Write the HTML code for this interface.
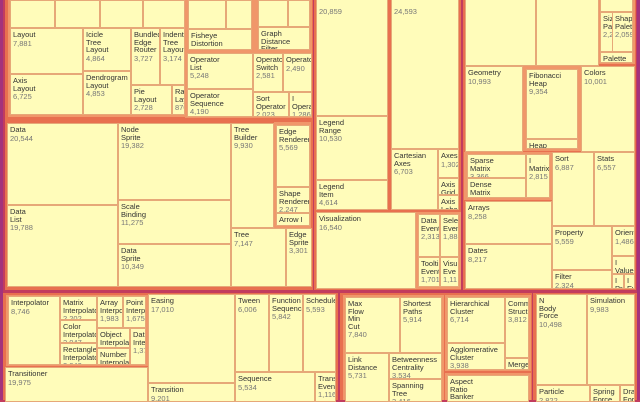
<!DOCTYPE html><html><head><style>
body{margin:0;width:640px;height:400px;overflow:hidden;background:#c23c5e;position:relative;font-family:"Liberation Sans",sans-serif}
div{position:absolute;box-sizing:border-box}
.g{background:#e8704f}
.h{background:#f0976a}
.l{background:#fffcba;border:1px solid #e6a878;font-size:7.5px;line-height:7.5px;color:#333;padding:2px 2px;overflow:hidden;white-space:nowrap}
.l i{font-style:normal;color:#777;display:block;margin-top:1px}
</style></head><body>
<div style="left:0;top:0;width:3px;height:400px;background:#a3327c"></div>
<div style="left:637px;top:0;width:3px;height:400px;background:#a3327c"></div>
<!-- top-left groups -->
<div class="g" style="left:5px;top:0;width:308px;height:120px"></div>
<div class="h" style="left:8px;top:0;width:178px;height:117px"></div>
<div class="h" style="left:185px;top:0;width:127px;height:118px"></div>
<div class="g" style="left:5px;top:120px;width:308px;height:170px"></div>
<div class="h" style="left:274px;top:122px;width:37px;height:106px"></div>
<div class="g" style="left:314px;top:0;width:147px;height:290px"></div>
<div class="h" style="left:416px;top:212px;width:45px;height:77px"></div>
<div class="g" style="left:463px;top:0;width:173px;height:290px"></div>
<div class="h" style="left:598px;top:0;width:37px;height:64px"></div>
<div class="h" style="left:523px;top:66px;width:58px;height:85px"></div>
<div class="h" style="left:464px;top:152px;width:88px;height:48px"></div>
<div class="g" style="left:3px;top:293px;width:335px;height:107px"></div>
<div class="h" style="left:6px;top:295px;width:142px;height:71px"></div>
<div class="g" style="left:340px;top:293px;width:192px;height:107px"></div>
<div class="h" style="left:343px;top:295px;width:101px;height:105px"></div>
<div class="h" style="left:445px;top:295px;width:86px;height:76px"></div>
<div class="h" style="left:445px;top:373px;width:86px;height:27px"></div>
<div class="g" style="left:533px;top:293px;width:104px;height:107px"></div>

<!-- layout -->
<div class="l" style="left:10px;top:0;width:45px;height:28px"></div>
<div class="l" style="left:55px;top:0;width:45px;height:28px"></div>
<div class="l" style="left:100px;top:0;width:43px;height:28px"></div>
<div class="l" style="left:143px;top:0;width:42px;height:28px"></div>
<div class="l" style="left:10px;top:28px;width:73px;height:46px">Layout<i>7,881</i></div>
<div class="l" style="left:10px;top:74px;width:73px;height:41px">Axis<br>Layout<i>6,725</i></div>
<div class="l" style="left:83px;top:28px;width:48px;height:43px">Icicle<br>Tree<br>Layout<i>4,864</i></div>
<div class="l" style="left:83px;top:71px;width:48px;height:44px">Dendrogram<br>Layout<i>4,853</i></div>
<div class="l" style="left:131px;top:28px;width:29px;height:57px">Bundled<br>Edge<br>Router<i>3,727</i></div>
<div class="l" style="left:160px;top:28px;width:25px;height:57px">Indent<br>Tree<br>Layout<i>3,174</i></div>
<div class="l" style="left:131px;top:85px;width:41px;height:30px">Pie<br>Layout<i>2,728</i></div>
<div class="l" style="left:172px;top:85px;width:13px;height:30px">Rad<br>Lay<i>870</i></div>
<!-- operators -->
<div class="l" style="left:188px;top:0;width:38px;height:29px"></div>
<div class="l" style="left:226px;top:0;width:26px;height:29px"></div>
<div class="l" style="left:188px;top:29px;width:64px;height:21px">Fisheye<br>Distortion<i>3,444</i></div>
<div class="l" style="left:258px;top:0;width:30px;height:27px"></div>
<div class="l" style="left:288px;top:0;width:22px;height:27px"></div>
<div class="l" style="left:258px;top:27px;width:52px;height:23px">Graph<br>Distance<br>Filter</div>
<div class="l" style="left:187px;top:53px;width:66px;height:36px">Operator<br>List<i>5,248</i></div>
<div class="l" style="left:187px;top:89px;width:66px;height:28px">Operator<br>Sequence<i>4,190</i></div>
<div class="l" style="left:253px;top:53px;width:30px;height:39px">Operator<br>Switch<i>2,581</i></div>
<div class="l" style="left:283px;top:53px;width:29px;height:39px">Operator<i>2,490</i></div>
<div class="l" style="left:253px;top:92px;width:36px;height:25px">Sort<br>Operator<i>2,023</i></div>
<div class="l" style="left:289px;top:92px;width:23px;height:25px">I<br>Operat<i>1,286</i></div>
<!-- data -->
<div class="l" style="left:7px;top:123px;width:111px;height:82px">Data<i>20,544</i></div>
<div class="l" style="left:7px;top:205px;width:111px;height:82px">Data<br>List<i>19,788</i></div>
<div class="l" style="left:118px;top:123px;width:113px;height:77px">Node<br>Sprite<i>19,382</i></div>
<div class="l" style="left:118px;top:200px;width:113px;height:44px">Scale<br>Binding<i>11,275</i></div>
<div class="l" style="left:118px;top:244px;width:113px;height:43px">Data<br>Sprite<i>10,349</i></div>
<div class="l" style="left:231px;top:123px;width:43px;height:105px">Tree<br>Builder<i>9,930</i></div>
<div class="l" style="left:231px;top:228px;width:55px;height:59px">Tree<i>7,147</i></div>
<div class="l" style="left:286px;top:228px;width:26px;height:59px">Edge<br>Sprite<i>3,301</i></div>
<div class="l" style="left:276px;top:125px;width:34px;height:62px">Edge<br>Renderer<i>5,569</i></div>
<div class="l" style="left:276px;top:187px;width:34px;height:26px">Shape<br>Renderer<i>2,247</i></div>
<div class="l" style="left:276px;top:213px;width:34px;height:13px">Arrow I</div>
<!-- legend/axis -->
<div class="l" style="left:316px;top:-4px;width:72px;height:120px">&nbsp;<i>20,859</i></div>
<div class="l" style="left:316px;top:116px;width:72px;height:64px">Legend<br>Range<i>10,530</i></div>
<div class="l" style="left:316px;top:180px;width:72px;height:30px">Legend<br>Item<i>4,614</i></div>
<div class="l" style="left:391px;top:-4px;width:68px;height:153px">&nbsp;<i>24,593</i></div>
<div class="l" style="left:391px;top:149px;width:47px;height:61px">Cartesian<br>Axes<i>6,703</i></div>
<div class="l" style="left:438px;top:149px;width:21px;height:29px">Axes<i>1,302</i></div>
<div class="l" style="left:438px;top:178px;width:21px;height:17px">Axis<br>Grid</div>
<div class="l" style="left:438px;top:195px;width:21px;height:15px">Axis<br>Labe</div>
<div class="l" style="left:316px;top:212px;width:100px;height:77px">Visualization<i>16,540</i></div>
<div class="l" style="left:418px;top:214px;width:22px;height:43px">Data<br>Event<i>2,313</i></div>
<div class="l" style="left:440px;top:214px;width:19px;height:43px">Sele<br>Even<i>1,88</i></div>
<div class="l" style="left:418px;top:257px;width:22px;height:30px">Tooltip<br>Event<i>1,701</i></div>
<div class="l" style="left:440px;top:257px;width:19px;height:30px">Visu<br>Eve<i>1,11</i></div>
<!-- util -->
<div class="l" style="left:465px;top:-2px;width:71px;height:68px"></div>
<div class="l" style="left:536px;top:-2px;width:63px;height:68px"></div>
<div class="l" style="left:600px;top:-2px;width:33px;height:14px"></div>
<div class="l" style="left:600px;top:12px;width:22px;height:40px">Size<br>Palette<i>2,291</i></div>
<div class="l" style="left:612px;top:12px;width:21px;height:40px">Shape<br>Palette<i>2,059</i></div>
<div class="l" style="left:600px;top:52px;width:33px;height:11px">Palette</div>
<div class="l" style="left:465px;top:66px;width:58px;height:86px">Geometry<i>10,993</i></div>
<div class="l" style="left:526px;top:69px;width:52px;height:70px">Fibonacci<br>Heap<i>9,354</i></div>
<div class="l" style="left:526px;top:139px;width:52px;height:10px">Heap</div>
<div class="l" style="left:581px;top:66px;width:54px;height:86px">Colors<i>10,001</i></div>
<div class="l" style="left:467px;top:154px;width:59px;height:24px">Sparse<br>Matrix<i>3,366</i></div>
<div class="l" style="left:467px;top:178px;width:59px;height:20px">Dense<br>Matrix<i>3,165</i></div>
<div class="l" style="left:526px;top:154px;width:24px;height:44px">I<br>Matrix<i>2,815</i></div>
<div class="l" style="left:552px;top:152px;width:42px;height:74px">Sort<i>6,887</i></div>
<div class="l" style="left:594px;top:152px;width:41px;height:74px">Stats<i>6,557</i></div>
<div class="l" style="left:465px;top:201px;width:87px;height:43px">Arrays<i>8,258</i></div>
<div class="l" style="left:465px;top:244px;width:87px;height:45px">Dates<i>8,217</i></div>
<div class="l" style="left:552px;top:226px;width:60px;height:44px">Property<i>5,559</i></div>
<div class="l" style="left:612px;top:226px;width:23px;height:30px">Orient<i>1,486</i></div>
<div class="l" style="left:612px;top:256px;width:23px;height:18px">I<br>Value</div>
<div class="l" style="left:612px;top:274px;width:12px;height:15px">I<br>Pr</div>
<div class="l" style="left:624px;top:274px;width:11px;height:15px">I<br>Ev</div>
<div class="l" style="left:552px;top:270px;width:60px;height:19px">Filter<i>2,324</i></div>
<!-- animate -->
<div class="l" style="left:8px;top:296px;width:52px;height:69px">Interpolator<i>8,746</i></div>
<div class="l" style="left:60px;top:296px;width:37px;height:24px">Matrix<br>Interpolato<i>2,202</i></div>
<div class="l" style="left:60px;top:320px;width:37px;height:23px">Color<br>Interpolato<i>2,047</i></div>
<div class="l" style="left:60px;top:343px;width:37px;height:22px">Rectangle<br>Interpolato<i>2,042</i></div>
<div class="l" style="left:97px;top:296px;width:26px;height:32px">Array<br>Interpo<i>1,983</i></div>
<div class="l" style="left:123px;top:296px;width:23px;height:32px">Point<br>Interp<i>1,675</i></div>
<div class="l" style="left:97px;top:328px;width:33px;height:20px">Object<br>Interpolat<i>1,620</i></div>
<div class="l" style="left:130px;top:328px;width:16px;height:37px">Date<br>Inte<i>1,37</i></div>
<div class="l" style="left:97px;top:348px;width:33px;height:17px">Number<br>Interpolat</div>
<div class="l" style="left:5px;top:367px;width:143px;height:35px">Transitioner<i>19,975</i></div>
<div class="l" style="left:148px;top:294px;width:87px;height:89px">Easing<i>17,010</i></div>
<div class="l" style="left:148px;top:383px;width:87px;height:19px">Transition<i>9,201</i></div>
<div class="l" style="left:235px;top:294px;width:34px;height:78px">Tween<i>6,006</i></div>
<div class="l" style="left:269px;top:294px;width:34px;height:78px">Function<br>Sequence<i>5,842</i></div>
<div class="l" style="left:303px;top:294px;width:33px;height:78px">Schedule<i>5,593</i></div>
<div class="l" style="left:235px;top:372px;width:80px;height:30px">Sequence<i>5,534</i></div>
<div class="l" style="left:315px;top:372px;width:21px;height:30px">Trans<br>Event<i>1,116</i></div>
<!-- analytics -->
<div class="l" style="left:345px;top:297px;width:55px;height:56px">Max<br>Flow<br>Min<br>Cut<i>7,840</i></div>
<div class="l" style="left:400px;top:297px;width:42px;height:56px">Shortest<br>Paths<i>5,914</i></div>
<div class="l" style="left:345px;top:353px;width:44px;height:49px">Link<br>Distance<i>5,731</i></div>
<div class="l" style="left:389px;top:353px;width:53px;height:26px">Betweenness<br>Centrality<i>3,534</i></div>
<div class="l" style="left:389px;top:379px;width:53px;height:23px">Spanning<br>Tree<i>3,416</i></div>
<div class="l" style="left:447px;top:297px;width:58px;height:46px">Hierarchical<br>Cluster<i>6,714</i></div>
<div class="l" style="left:447px;top:343px;width:58px;height:27px">Agglomerative<br>Cluster<i>3,938</i></div>
<div class="l" style="left:505px;top:297px;width:24px;height:61px">Commu<br>Structu<i>3,812</i></div>
<div class="l" style="left:505px;top:358px;width:24px;height:12px">Merge</div>
<div class="l" style="left:447px;top:375px;width:82px;height:27px">Aspect<br>Ratio<br>Banker</div>
<!-- physics -->
<div class="l" style="left:536px;top:294px;width:51px;height:91px">N<br>Body<br>Force<i>10,498</i></div>
<div class="l" style="left:587px;top:294px;width:48px;height:91px">Simulation<i>9,983</i></div>
<div class="l" style="left:536px;top:385px;width:54px;height:17px">Particle<i>2,822</i></div>
<div class="l" style="left:590px;top:385px;width:30px;height:17px">Spring<br>Force</div>
<div class="l" style="left:620px;top:385px;width:15px;height:17px">Dra<br>For</div>
</body></html>
